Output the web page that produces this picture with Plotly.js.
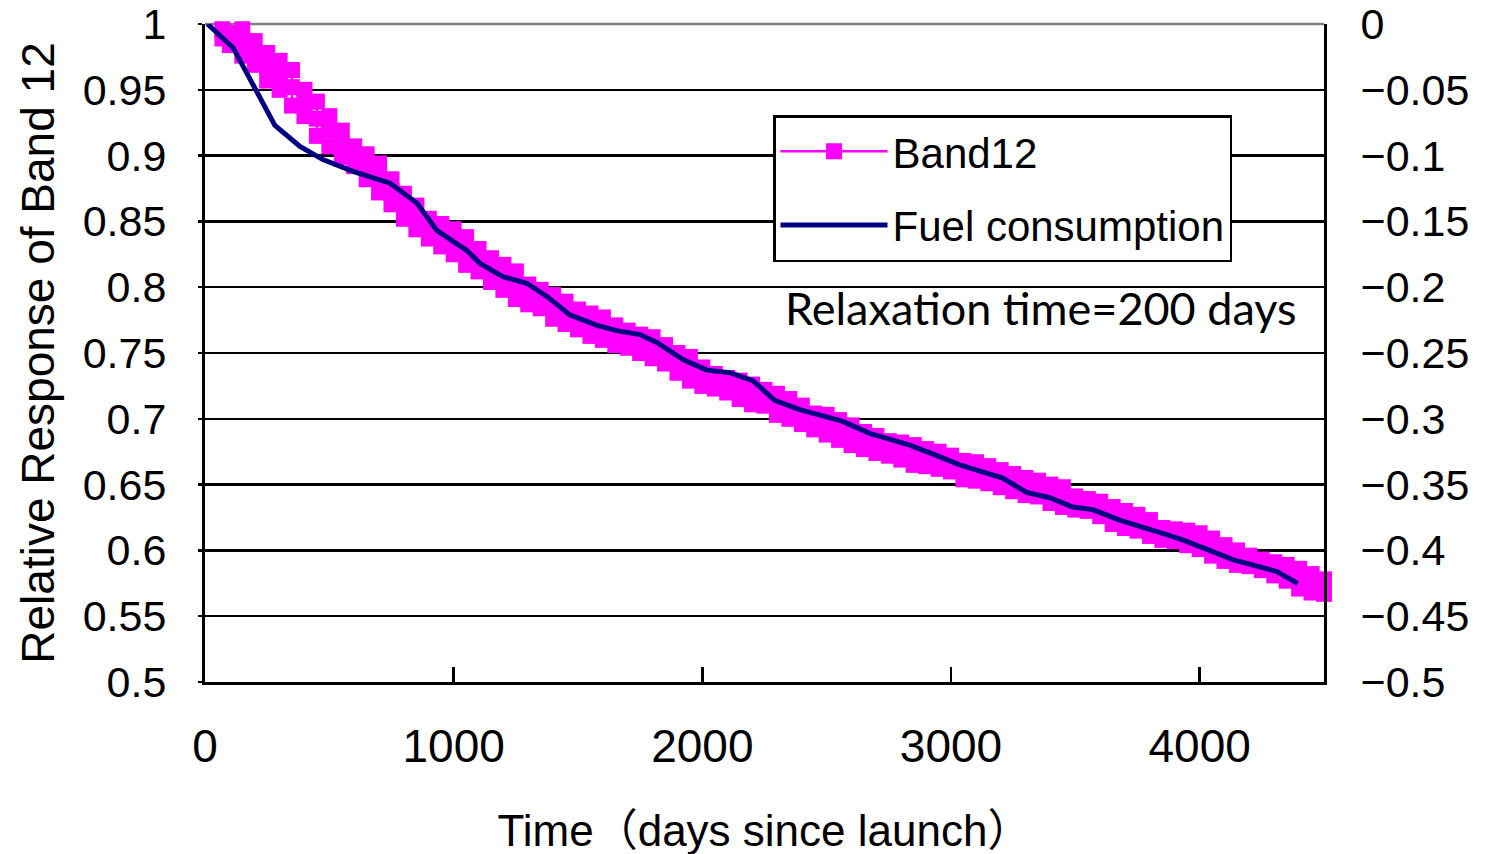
<!DOCTYPE html>
<html>
<head>
<meta charset="utf-8">
<script src="https://cdn.plot.ly/plotly-3.0.1.min.js"></script>
<style>
  html, body { margin: 0; padding: 0; background: #ffffff; }
  #chart { width: 1487px; height: 854px; }
</style>
</head>
<body>
<div id="chart"></div>
<script>
// Band12 relative response: sampling days with the upper edge, centre and
// lower edge of the scattered daily readings.
const bandDays = [70, 100, 150, 200, 250, 300, 350, 400, 450, 500, 550, 600, 650, 700, 750, 800, 850, 900, 950,
  1000, 1050, 1100, 1150, 1200, 1250, 1300, 1350, 1400, 1450, 1500, 1550, 1600, 1650, 1700, 1750, 1800, 1850, 1900, 1950,
  2000, 2050, 2100, 2150, 2200, 2250, 2300, 2350, 2400, 2450, 2500, 2550, 2600, 2650, 2700, 2750, 2800, 2850, 2900, 2950,
  3000, 3050, 3100, 3150, 3200, 3250, 3300, 3350, 3400, 3450, 3500, 3550, 3600, 3650, 3700, 3750, 3800, 3850, 3900, 3950,
  4000, 4050, 4100, 4150, 4200, 4250, 4300, 4350, 4400, 4450, 4500, 4515];

const bandUpper = [1.002, 1.002, 0.996, 0.987, 0.978, 0.972, 0.965, 0.950, 0.941, 0.930, 0.919, 0.907, 0.901, 0.894, 0.882, 0.871, 0.862, 0.852, 0.848,
  0.844, 0.838, 0.829, 0.822, 0.817, 0.812, 0.802, 0.798, 0.794, 0.789, 0.783, 0.780, 0.777, 0.771, 0.767, 0.764, 0.762, 0.756, 0.750, 0.747,
  0.739, 0.734, 0.731, 0.729, 0.726, 0.722, 0.719, 0.715, 0.710, 0.704, 0.703, 0.699, 0.695, 0.690, 0.687, 0.683, 0.682, 0.680, 0.677, 0.675,
  0.672, 0.668, 0.667, 0.664, 0.661, 0.658, 0.655, 0.653, 0.650, 0.648, 0.641, 0.639, 0.637, 0.633, 0.630, 0.627, 0.623, 0.617, 0.616, 0.615,
  0.613, 0.609, 0.604, 0.600, 0.596, 0.593, 0.591, 0.589, 0.586, 0.582, 0.578, 0.578];

const bandMiddle = [0.996, 0.993, 0.986, 0.978, 0.968, 0.961, 0.952, 0.940, 0.928, 0.919, 0.909, 0.900, 0.892, 0.883, 0.873, 0.862, 0.853, 0.845, 0.840,
  0.835, 0.828, 0.821, 0.813, 0.808, 0.802, 0.795, 0.791, 0.785, 0.781, 0.776, 0.772, 0.769, 0.764, 0.761, 0.757, 0.754, 0.749, 0.743, 0.738,
  0.732, 0.729, 0.726, 0.722, 0.719, 0.716, 0.711, 0.708, 0.703, 0.698, 0.696, 0.692, 0.688, 0.684, 0.681, 0.678, 0.676, 0.673, 0.671, 0.669,
  0.666, 0.661, 0.660, 0.658, 0.655, 0.652, 0.649, 0.647, 0.643, 0.641, 0.636, 0.635, 0.632, 0.627, 0.624, 0.621, 0.617, 0.613, 0.612, 0.610,
  0.607, 0.603, 0.598, 0.595, 0.592, 0.589, 0.586, 0.583, 0.579, 0.575, 0.573, 0.573];

const bandLower = [0.989, 0.984, 0.976, 0.969, 0.957, 0.950, 0.938, 0.930, 0.915, 0.907, 0.899, 0.892, 0.882, 0.872, 0.863, 0.852, 0.844, 0.837, 0.831,
  0.825, 0.817, 0.812, 0.804, 0.798, 0.791, 0.787, 0.784, 0.776, 0.772, 0.768, 0.763, 0.760, 0.756, 0.754, 0.750, 0.746, 0.742, 0.735, 0.729,
  0.725, 0.723, 0.720, 0.715, 0.711, 0.710, 0.703, 0.700, 0.696, 0.692, 0.688, 0.684, 0.680, 0.677, 0.674, 0.672, 0.669, 0.665, 0.664, 0.662,
  0.660, 0.654, 0.653, 0.651, 0.648, 0.645, 0.642, 0.641, 0.636, 0.633, 0.631, 0.630, 0.626, 0.620, 0.617, 0.615, 0.611, 0.608, 0.607, 0.604,
  0.601, 0.596, 0.592, 0.589, 0.588, 0.585, 0.581, 0.577, 0.571, 0.568, 0.567, 0.567];

// Fuel consumption curve (right axis, relaxation time 200 days).
const fuelDays = [10, 113, 281, 382, 474, 595, 744, 852, 933, 1053, 1106, 1198, 1294, 1375, 1467, 1576, 1656, 1749, 1817, 1922,
  2018, 2111, 2203, 2291, 2392, 2565, 2673, 2834, 2943, 3035, 3208, 3304, 3397, 3490, 3570, 3678, 3851, 3932, 4040, 4133, 4310, 4394];
const fuelConsumption = [0, -0.018, -0.077, -0.093, -0.103, -0.112, -0.121, -0.136, -0.157, -0.172, -0.182, -0.192, -0.197, -0.207,
  -0.221, -0.229, -0.233, -0.236, -0.242, -0.255, -0.263, -0.265, -0.271, -0.286, -0.293, -0.302, -0.311, -0.320, -0.328, -0.335,
  -0.345, -0.356, -0.360, -0.367, -0.369, -0.377, -0.387, -0.392, -0.400, -0.407, -0.416, -0.425];

const xTicks = [0, 1000, 2000, 3000, 4000];

// Interleave the three readings of each sampling day into one scatter series.
const bandX = [];
const bandY = [];
bandDays.forEach((d, i) => {
  bandX.push(d, d, d);
  bandY.push(bandUpper[i], bandMiddle[i], bandLower[i]);
});

const FONT = 'Liberation Sans, Arial, "Noto Sans CJK JP", sans-serif';

const traces = [
  {
    name: 'Band12',
    x: bandX,
    y: bandY,
    type: 'scatter',
    mode: 'lines+markers',
    line: { color: '#FF00FF', width: 2.5 },
    marker: { symbol: 'square', size: 16, color: '#FF00FF', line: { width: 0 } },
    cliponaxis: false,
    legendgroup: 'a',
    xaxis: 'x',
    yaxis: 'y'
  },
  {
    name: 'Fuel consumption',
    x: fuelDays,
    y: fuelConsumption,
    type: 'scatter',
    mode: 'lines',
    line: { color: '#000080', width: 5 },
    legendgroup: 'b',
    xaxis: 'x',
    yaxis: 'y2'
  }
];

const layout = {
  width: 1487,
  height: 854,
  margin: { l: 205, r: 163, t: 24, b: 172, pad: 0 },
  paper_bgcolor: '#ffffff',
  plot_bgcolor: '#ffffff',
  font: { family: FONT, color: '#000000' },
  showlegend: true,
  legend: {
    x: 0.5076, y: 0.8617, xanchor: 'left', yanchor: 'top',
    bgcolor: '#ffffff', bordercolor: '#000000', borderwidth: 2.5,
    font: { family: FONT, size: 42, color: '#000000' },
    itemwidth: 107,
    traceorder: 'grouped',
    tracegroupgap: 16
  },
  xaxis: {
    range: [0, 4500],
    tickvals: xTicks,
    ticks: 'inside', ticklen: 15, tickwidth: 2.5, tickcolor: '#000000',
    showline: true, linecolor: '#000000', linewidth: 3,
    showgrid: false, zeroline: false,
    tickfont: { family: FONT, size: 46 },
    ticklabelstandoff: 22,
    title: { text: 'Time（days since launch）', font: { family: FONT, size: 44 }, standoff: 37 }
  },
  yaxis: {
    range: [0.5, 1],
    dtick: 0.05, tick0: 0.5,
    ticks: 'outside', ticklen: 4, tickwidth: 2.5, tickcolor: '#000000',
    showline: true, linecolor: '#000000', linewidth: 3,
    showgrid: true, gridcolor: '#000000', gridwidth: 2.5,
    zeroline: false,
    tickfont: { family: FONT, size: 43 },
    ticklabelstandoff: 23,
    title: { text: 'Relative Response of Band 12', font: { family: FONT, size: 46 }, standoff: 14 }
  },
  yaxis2: {
    range: [-0.5, 0],
    dtick: 0.05, tick0: -0.5,
    overlaying: 'y', side: 'right',
    ticks: 'inside', ticklen: 13, tickwidth: 2.5, tickcolor: '#000000',
    showline: true, linecolor: '#000000', linewidth: 3,
    showgrid: false, zeroline: false,
    tickfont: { family: FONT, size: 43 },
    ticklabelstandoff: 25
  },
  shapes: [
    {
      type: 'line', xref: 'paper', yref: 'paper',
      x0: 0, x1: 1, y0: 1, y1: 1,
      line: { color: '#808080', width: 2.5 },
      layer: 'below'
    }
  ],
  annotations: [
    {
      text: 'Relaxation time=200 days',
      xref: 'paper', yref: 'paper',
      x: 0.747, y: 0.568, xanchor: 'center', yanchor: 'middle',
      showarrow: false,
      font: { family: 'Lato, "Open Sans", sans-serif', size: 45, color: '#000000' }
    }
  ]
};

Plotly.newPlot('chart', traces, layout, { displayModeBar: false, staticPlot: true }).then(gd => {
  // Nudge the x-axis title down a little closer to the page edge.
  const t = gd.querySelector('.g-xtitle text');
  if (t) t.setAttribute('transform', 'translate(0,7)');
});
</script>
</body>
</html>
